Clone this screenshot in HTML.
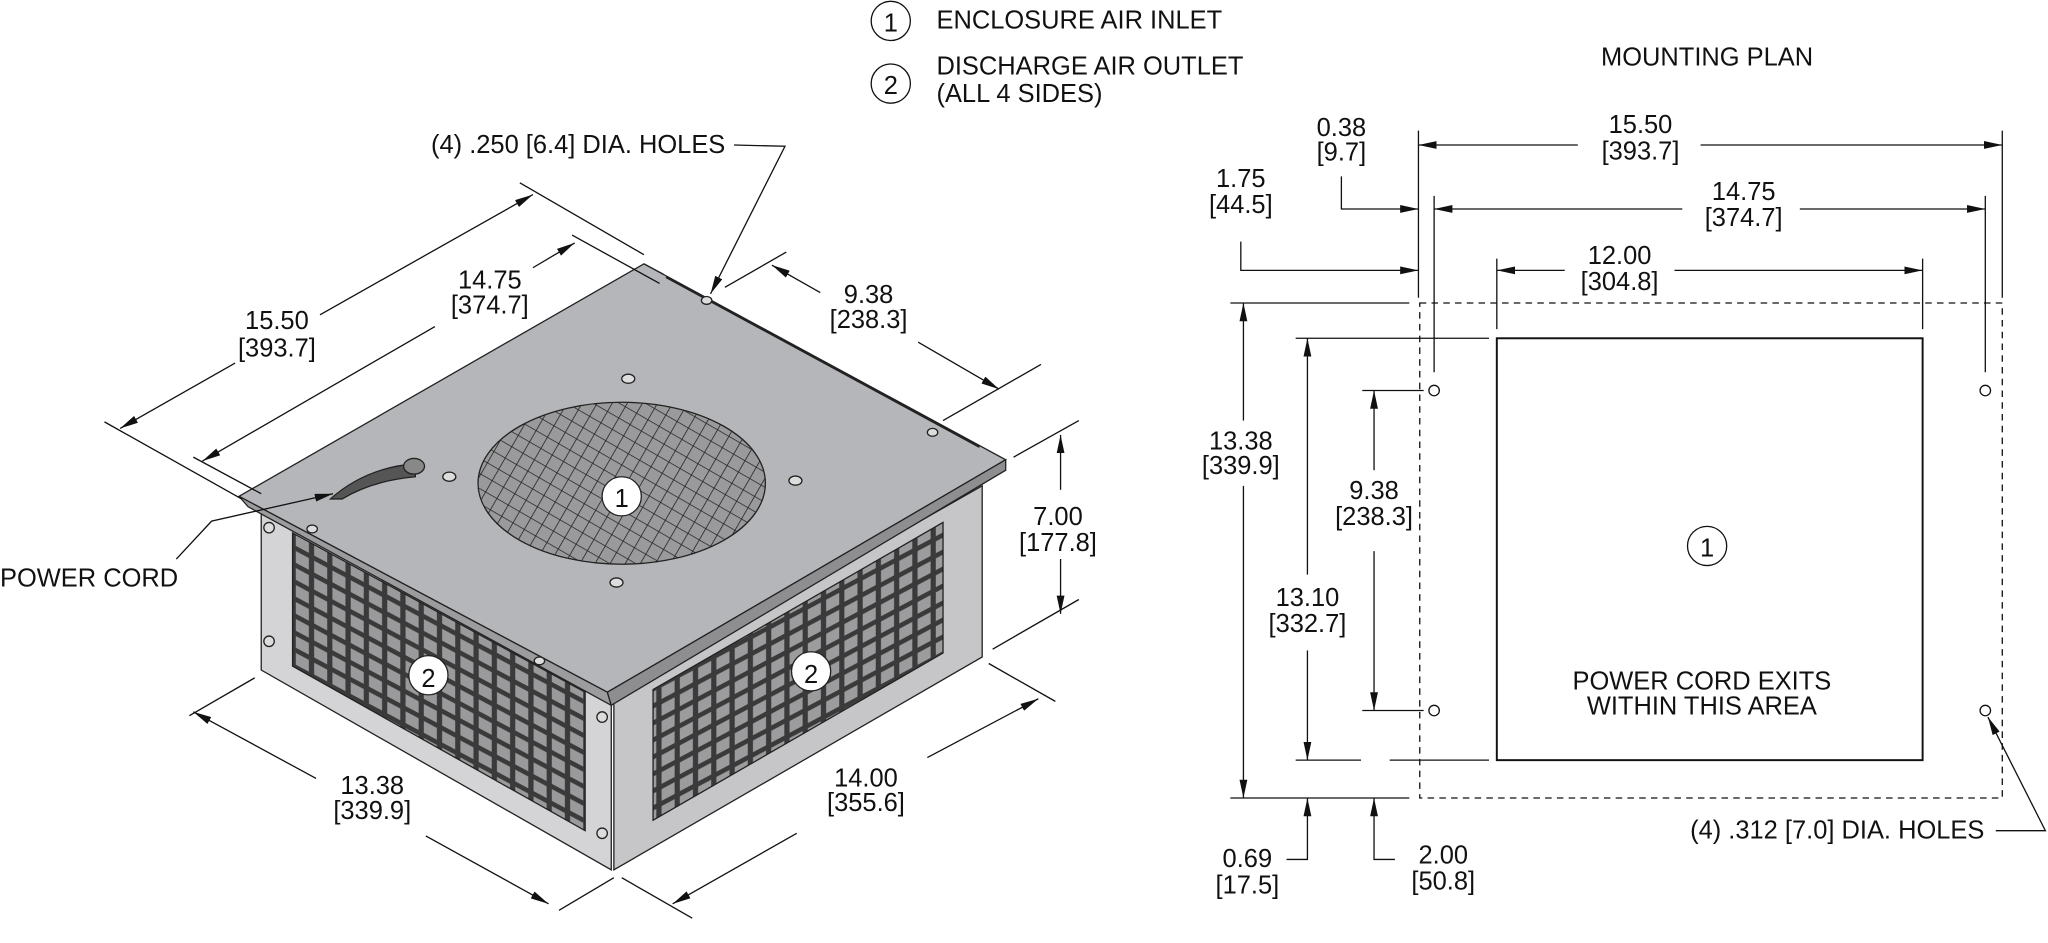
<!DOCTYPE html>
<html><head><meta charset="utf-8"><style>
html,body{margin:0;padding:0;background:#fff;}
svg{display:block;}
text{font-family:"Liberation Sans",Arial,sans-serif;font-size:19.5px;fill:#111;}
</style></head><body>
<svg width="2048" height="943" viewBox="0 0 1568 722" preserveAspectRatio="none" xmlns="http://www.w3.org/2000/svg">
<defs>
<marker id="a" markerWidth="14" markerHeight="6" refX="14" refY="3" orient="auto-start-reverse" markerUnits="userSpaceOnUse"><path d="M0,0 L14,3 L0,6z" fill="#111"/></marker>
<pattern id="gl" width="14" height="13" patternUnits="userSpaceOnUse" patternTransform="skewY(28)"><rect width="14" height="13" fill="#3a3a3a"/><rect x="2.5" y="2.5" width="10" height="9" fill="#9a9a9c"/></pattern>
<pattern id="gr" width="14" height="13" patternUnits="userSpaceOnUse" patternTransform="skewY(-28)"><rect width="14" height="13" fill="#3a3a3a"/><rect x="2.5" y="2.5" width="10" height="9" fill="#9c9c9e"/></pattern>
<pattern id="mesh" width="10" height="10" patternUnits="userSpaceOnUse" patternTransform="rotate(30)"><rect width="10" height="10" fill="#9a9a9c"/><path d="M0,0H10M0,0V10" stroke="#222" stroke-width="1.2"/></pattern>
</defs>
<g stroke="#111" stroke-width="1" fill="none">
<circle cx="682" cy="16" r="15"/><circle cx="682" cy="64" r="15"/>
</g>
<text x="682" y="24" text-anchor="middle" font-size="22">1</text>
<text x="682" y="72" text-anchor="middle" font-size="22">2</text>
<text x="717" y="22">ENCLOSURE AIR INLET</text>
<text x="717" y="57">DISCHARGE AIR OUTLET</text>
<text x="717" y="78">(ALL 4 SIDES)</text>

<g stroke="#222" stroke-width="1">
<polygon points="200,385 468,532 468,666 200,513" fill="#d4d4d6"/>
<polygon points="470,532 752,372 752,503 470,666" fill="#c6c6c8"/>
<polygon points="224,408 448,530 448,636 224,510" fill="url(#gl)"/>
<polygon points="500,528 722,400 722,500 500,628" fill="url(#gr)"/>
<polygon points="183,380 493,202 770,352 465,530" fill="#b5b6b9"/>
<polygon points="183,380 465,530 468,540 190,388" fill="#9c9c9e"/>
<polygon points="465,530 770,352 770,360 468,540" fill="#8e8e90"/>
<line x1="493" y1="202" x2="508" y2="210"/>
<line x1="510" y1="212" x2="750" y2="342" stroke-width="2"/>
<ellipse cx="476" cy="370" rx="110" ry="62" fill="url(#mesh)"/>
<path d="M253,382 Q280,358 318,355 L318,365 Q285,368 262,382Z" fill="#555"/>
<ellipse cx="317" cy="357" rx="8" ry="6" fill="#888"/>
</g>
<g fill="#ddd" stroke="#222" stroke-width="1">
<ellipse cx="481" cy="290" rx="5" ry="3.5"/><ellipse cx="344" cy="365" rx="5" ry="3.5"/>
<ellipse cx="609" cy="368" rx="5" ry="3.5"/><ellipse cx="472" cy="446" rx="5" ry="3.5"/>
<ellipse cx="541" cy="230" rx="4" ry="3"/><ellipse cx="714" cy="331" rx="4" ry="3"/>
<ellipse cx="239" cy="405" rx="4" ry="3"/><ellipse cx="413" cy="506" rx="4" ry="3"/>
<circle cx="206" cy="404" r="4"/><circle cx="206" cy="491" r="4"/>
<circle cx="461" cy="549" r="4"/><circle cx="461" cy="638" r="4"/>
<circle cx="476" cy="380" r="15" fill="#fff"/><circle cx="328" cy="517" r="15" fill="#fff"/><circle cx="621" cy="514" r="15" fill="#fff"/>
</g>
<text x="476" y="388" text-anchor="middle" font-size="24">1</text>
<text x="328" y="526" text-anchor="middle" font-size="24">2</text>
<text x="621" y="523" text-anchor="middle" font-size="24">2</text>

<g stroke="#111" stroke-width="1" fill="none">
<line x1="80" y1="323" x2="185" y2="382"/><line x1="398" y1="140" x2="493" y2="195"/>
<line x1="92" y1="328" x2="180" y2="278" marker-start="url(#a)"/><line x1="245" y1="241" x2="408" y2="149" marker-end="url(#a)"/>
<line x1="148" y1="350" x2="200" y2="378"/><line x1="438" y1="180" x2="505" y2="217"/>
<line x1="155" y1="353" x2="333" y2="250" marker-start="url(#a)"/><line x1="408" y1="205" x2="440" y2="186" marker-end="url(#a)"/>
<line x1="555" y1="220" x2="602" y2="193"/><line x1="722" y1="322" x2="797" y2="279"/>
<line x1="591" y1="203" x2="628" y2="224" marker-start="url(#a)"/><line x1="703" y1="262" x2="765" y2="298" marker-end="url(#a)"/>
<line x1="776" y1="350" x2="826" y2="322"/><line x1="760" y1="497" x2="826" y2="459"/>
<line x1="812" y1="375" x2="812" y2="333" marker-end="url(#a)"/><line x1="812" y1="428" x2="812" y2="470" marker-end="url(#a)"/>
<line x1="145" y1="548" x2="195" y2="519"/><line x1="428" y1="697" x2="470" y2="672"/>
<line x1="148" y1="545" x2="242" y2="596" marker-start="url(#a)"/><line x1="326" y1="640" x2="420" y2="692" marker-end="url(#a)"/>
<line x1="476" y1="672" x2="530" y2="703"/><line x1="757" y1="508" x2="808" y2="537"/>
<line x1="515" y1="692" x2="610" y2="638" marker-start="url(#a)"/><line x1="710" y1="580" x2="795" y2="535" marker-end="url(#a)"/>
<polyline points="562,111 601,112 544,225" marker-end="url(#a)"/>
<polyline points="135,428 162,399 255,378" marker-end="url(#a)"/>
</g>
<g text-anchor="middle">
<text x="212" y="252">15.50</text><text x="212" y="273">[393.7]</text>
<text x="375" y="221">14.75</text><text x="375" y="240">[374.7]</text>
<text x="665" y="232">9.38</text><text x="665" y="251">[238.3]</text>
<text x="810" y="402">7.00</text><text x="810" y="422">[177.8]</text>
<text x="285" y="608">13.38</text><text x="285" y="627">[339.9]</text>
<text x="663" y="602">14.00</text><text x="663" y="621">[355.6]</text>
</g>
<text x="330" y="117">(4) .250 [6.4] DIA. HOLES</text>
<text x="0" y="449">POWER CORD</text>

<text x="1307" y="50" text-anchor="middle">MOUNTING PLAN</text>
<g stroke="#111" stroke-width="1" fill="none">
<rect x="1087" y="232" width="446" height="379" stroke-dasharray="5,4"/>
<rect x="1146" y="259" width="326" height="323" stroke-width="1.5"/>
<circle cx="1098" cy="299" r="4"/><circle cx="1520" cy="299" r="4"/>
<circle cx="1098" cy="544" r="4"/><circle cx="1520" cy="544" r="4"/>
<circle cx="1307" cy="418" r="15"/>
<line x1="1086" y1="100" x2="1086" y2="228"/><line x1="1533" y1="100" x2="1533" y2="228"/>
<line x1="1098" y1="150" x2="1098" y2="285"/><line x1="1520" y1="150" x2="1520" y2="285"/>
<line x1="1146" y1="198" x2="1146" y2="252"/><line x1="1472" y1="198" x2="1472" y2="252"/>
<line x1="942" y1="232" x2="1079" y2="232"/><line x1="942" y1="611" x2="1079" y2="611"/>
<line x1="992" y1="259" x2="1140" y2="259"/><line x1="992" y1="582" x2="1042" y2="582"/><line x1="1064" y1="582" x2="1140" y2="582"/>
<line x1="1043" y1="299" x2="1090" y2="299"/><line x1="1043" y1="544" x2="1090" y2="544"/>
<line x1="1208" y1="111" x2="1086" y2="111" marker-end="url(#a)"/><line x1="1302" y1="111" x2="1533" y2="111" marker-end="url(#a)"/>
<line x1="1288" y1="160" x2="1098" y2="160" marker-end="url(#a)"/><line x1="1378" y1="160" x2="1520" y2="160" marker-end="url(#a)"/>
<line x1="1198" y1="207" x2="1146" y2="207" marker-end="url(#a)"/><line x1="1282" y1="207" x2="1472" y2="207" marker-end="url(#a)"/>
<polyline points="1027,135 1027,160 1086,160" marker-end="url(#a)"/>
<polyline points="950,185 950,207 1086,207" marker-end="url(#a)"/>
<line x1="952" y1="322" x2="952" y2="232" marker-end="url(#a)"/><line x1="952" y1="372" x2="952" y2="611" marker-end="url(#a)"/>
<line x1="1001" y1="440" x2="1001" y2="259" marker-end="url(#a)"/><line x1="1001" y1="498" x2="1001" y2="582" marker-end="url(#a)"/>
<line x1="1052" y1="360" x2="1052" y2="299" marker-end="url(#a)"/><line x1="1052" y1="422" x2="1052" y2="544" marker-end="url(#a)"/>
<polyline points="985,658 1001,658 1001,611" marker-end="url(#a)"/>
<polyline points="1068,658 1052,658 1052,611" marker-end="url(#a)"/>
<polyline points="1528,636 1566,636 1522,549" marker-end="url(#a)"/>
</g>
<g text-anchor="middle">
<text x="1256" y="102">15.50</text><text x="1256" y="122">[393.7]</text>
<text x="1335" y="153">14.75</text><text x="1335" y="173">[374.7]</text>
<text x="1240" y="202">12.00</text><text x="1240" y="222">[304.8]</text>
<text x="1027" y="104">0.38</text><text x="1027" y="123">[9.7]</text>
<text x="950" y="143">1.75</text><text x="950" y="163">[44.5]</text>
<text x="950" y="344">13.38</text><text x="950" y="363">[339.9]</text>
<text x="1001" y="464">13.10</text><text x="1001" y="484">[332.7]</text>
<text x="1052" y="382">9.38</text><text x="1052" y="402">[238.3]</text>
<text x="955" y="664">0.69</text><text x="955" y="684">[17.5]</text>
<text x="1105" y="661">2.00</text><text x="1105" y="681">[50.8]</text>
<text x="1307" y="426" font-size="24">1</text>
<text x="1303" y="528">POWER CORD EXITS</text><text x="1303" y="547">WITHIN THIS AREA</text>
</g>
<text x="1294" y="642">(4) .312 [7.0] DIA. HOLES</text>
</svg>
</body></html>
